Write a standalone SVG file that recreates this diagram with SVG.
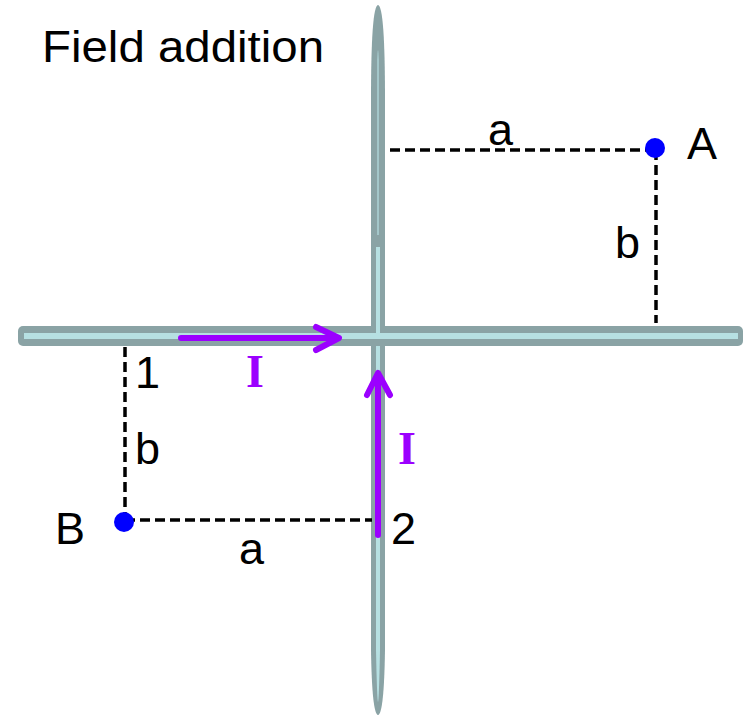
<svg xmlns="http://www.w3.org/2000/svg" width="751" height="721" viewBox="0 0 751 721">
<style>
.lbl{font-family:"Liberation Sans",Arial,sans-serif;font-size:45px;fill:#000}
.cur{font-family:"Liberation Serif","Times New Roman",serif;font-size:46px;font-weight:bold;fill:#9b00ff}
.dash{stroke:#000;stroke-width:3.5;stroke-dasharray:10 5;fill:none}
.wire{fill:#8aa3a5}
.core{fill:#b6e0e2}
.arrow{stroke:#9b00ff;stroke-width:6;fill:none;stroke-linecap:round;stroke-linejoin:round}
.dot{fill:#0000ff}
</style>
<rect width="751" height="721" fill="#fff"/>
<text class="lbl" x="42" y="62" font-size="41" textLength="282" lengthAdjust="spacingAndGlyphs">Field addition</text>
<g id="wire-vertical">
  <path class="wire" d="M371,248 L371,100 Q371,6 378,5 Q385,6 385,100 L385,248 Z"/>
  <path class="core" d="M377,235 L377,60 Q378,40 379,60 L379,235 Z" opacity="0.6"/>
  <rect class="wire" x="371" y="245" width="14" height="350"/>
  <rect class="core" x="376" y="247" width="4" height="346"/>
  <path class="wire" d="M371,592 L371,650 Q372,714 378,715 Q384,714 385,650 L385,592 Z"/>
  <path class="core" d="M376,592 L376,650 Q377,700 378,702 Q379,700 380,650 L380,592 Z"/>
</g>
<g id="wire-horizontal">
  <rect class="wire" x="18" y="326" width="725" height="20" rx="5"/>
  <rect class="core" x="24" y="333" width="714" height="6"/>
  <rect class="wire" x="371" y="326" width="14" height="7"/>
  <rect class="core" x="376" y="326" width="4" height="7"/>
</g>
<g id="connectors">
  <line class="dash" x1="390" y1="150" x2="655" y2="150"/>
  <line class="dash" x1="656" y1="150" x2="656" y2="323"/>
  <line class="dash" x1="125" y1="347" x2="125" y2="520"/>
  <line class="dash" x1="125" y1="520" x2="372" y2="520"/>
  <g id="current-1">
    <line class="arrow" x1="181" y1="338" x2="338" y2="338" stroke-linecap="butt"/>
    <polyline class="arrow" points="316,327 339,338 316,350"/>
  </g>
  <g id="current-2">
    <line class="arrow" x1="378" y1="535" x2="378" y2="375" stroke-linecap="butt"/>
    <polyline class="arrow" points="367,395 378,373 390,395"/>
  </g>
</g>
<g id="point-A">
  <circle class="dot" cx="655" cy="148" r="10"/>
  <text class="lbl" x="687" y="159">A</text>
</g>
<g id="point-B">
  <circle class="dot" cx="124" cy="522" r="10"/>
  <text class="lbl" x="55" y="544">B</text>
</g>
<g id="labels">
  <text class="lbl" x="488" y="145">a</text>
  <text class="lbl" x="615" y="258">b</text>
  <text class="lbl" x="135" y="388">1</text>
  <text class="lbl" x="135" y="464">b</text>
  <text class="lbl" x="239" y="564">a</text>
  <text class="lbl" x="391" y="544">2</text>
  <text class="cur" x="246" y="387">I</text>
  <text class="cur" x="398" y="464">I</text>
</g>
</svg>
